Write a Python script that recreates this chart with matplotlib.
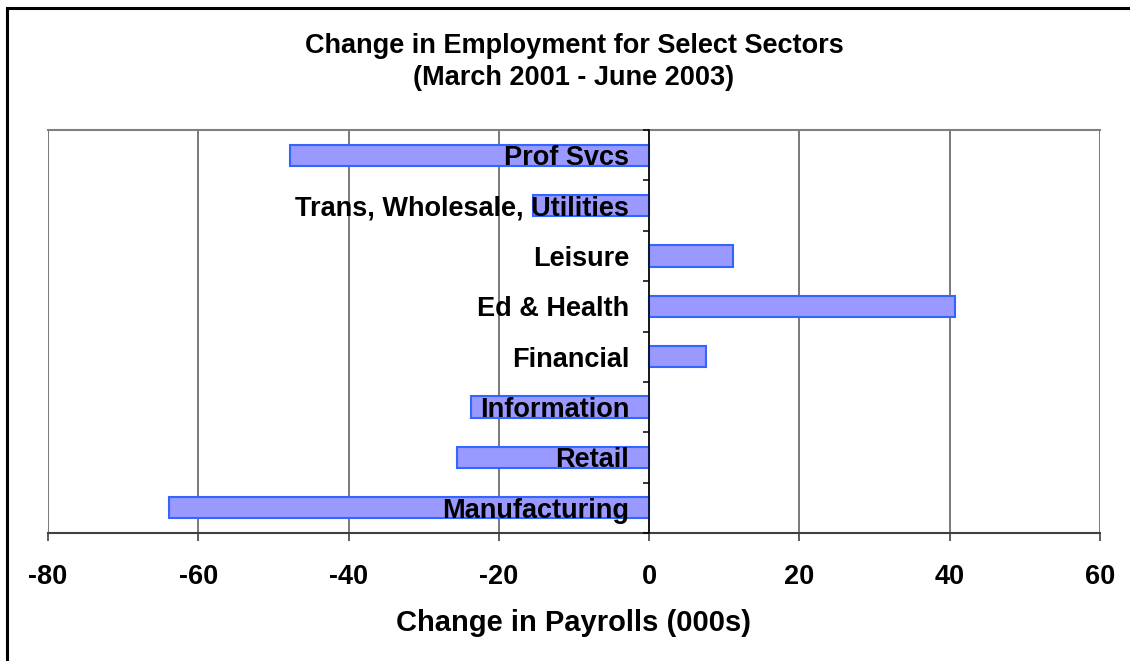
import matplotlib
matplotlib.use("Agg")
import matplotlib.pyplot as plt
from matplotlib.patches import Rectangle
import numpy as np

# Sectors listed bottom to top, values in thousands
sectors = ["Manufacturing", "Retail", "Information", "Financial",
           "Ed & Health", "Leisure", "Trans, Wholesale, Utilities", "Prof Svcs"]
changes = [-63.9, -25.6, -23.7, 7.6, 40.7, 11.2, -15.5, -47.8]
x_ticks = [-80, -60, -40, -20, 0, 20, 40, 60]

plt.rcParams['font.family'] = ['Liberation Sans', 'DejaVu Sans']
plt.rcParams['font.weight'] = 'bold'

fig = plt.figure(figsize=(11.3, 6.61), dpi=100, facecolor='white')
ax = fig.add_axes([48 / 1130, 1 - 533 / 661, (1100 - 48) / 1130, (533 - 130) / 661])

ypos = np.arange(len(sectors))
ax.barh(ypos, changes, height=0.42, color='#9999ff', edgecolor='#3366ff',
        linewidth=1.5, zorder=1)

ax.set_xlim(-80, 60)
ax.set_ylim(-0.5, len(sectors) - 0.5)
ax.set_xticks(x_ticks)
ax.set_xticklabels([str(v) for v in x_ticks], fontsize=19.5, fontweight='bold')
ax.tick_params(axis='x', direction='out', length=6, width=1.2, color='#404040', pad=16)
ax.grid(axis='x', color='#555555', linewidth=1.1)
ax.xaxis.set_zorder(0.5)

# Category axis sits on the zero line, labels drawn over the bars
ax.spines['left'].set_position(('data', 0))
ax.spines['left'].set_color('black')
ax.spines['left'].set_linewidth(1.1)
ax.spines['left'].set_zorder(3)
ax.set_yticks(ypos)
ax.set_yticklabels(sectors, fontsize=19.5, fontweight='bold')
ax.set_yticks(np.arange(len(sectors) + 1) - 0.5, minor=True)
ax.tick_params(axis='y', which='major', length=0, pad=14.5)
ax.tick_params(axis='y', which='minor', direction='out', length=4, width=1.1, color='black')
ax.yaxis.set_zorder(3)

ax.spines['top'].set_color('#808080')
ax.spines['top'].set_linewidth(1.5)
ax.spines['right'].set_visible(False)
ax.spines['bottom'].set_color('#404040')
ax.spines['bottom'].set_linewidth(1.5)

ax.set_xlabel('Change in Payrolls (000s)', fontsize=21, fontweight='bold', labelpad=14)

fig.text(574 / 1130, 1 - 62 / 661, 'Change in Employment for Select Sectors\n(March 2001 - June 2003)',
         ha='center', va='center', fontsize=19.5, fontweight='bold', linespacing=1.32)

# Outer chart frame, cut by the image edge at right and bottom
fig.patches.append(Rectangle((7 / 1130, -0.1), 1.2, 1.1 - 8 / 661, transform=fig.transFigure,
                             fill=False, edgecolor='black', linewidth=2.2))

fig.savefig('out.png', dpi=100, facecolor='white')
